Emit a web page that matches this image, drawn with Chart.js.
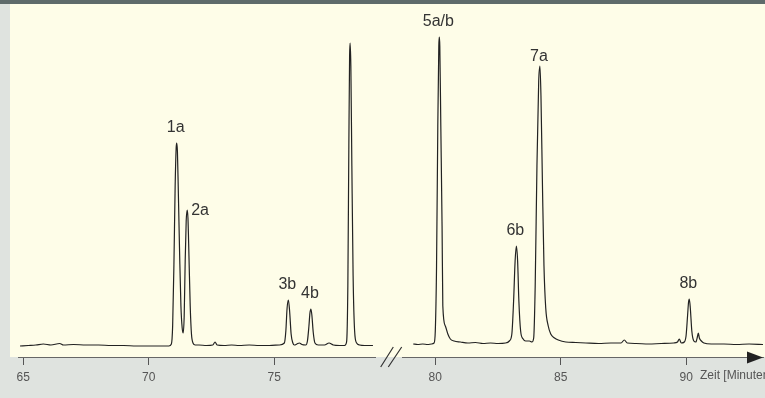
<!DOCTYPE html>
<html>
<head>
<meta charset="utf-8">
<script src="https://cdn.jsdelivr.net/npm/chart.js@4"></script>
<style>
  html, body { margin: 0; padding: 0; background: #dfe3df; }
  canvas { display: block; }
</style>
</head>
<body>
<canvas id="chrom" width="765" height="398"></canvas>
<script>
// Retentionszeiten [min] und Signal (Höhe über Basislinie), vor dem Achsenbruch
const zeitLinks = [64.87, 65.2, 65.5, 65.8, 66.1, 66.45, 66.6, 67.0, 67.5, 68.0, 68.5, 69.0, 69.5, 70.0, 70.5, 70.8,
  70.9, 70.95, 71.0, 71.05, 71.09, 71.11, 71.14, 71.18, 71.23, 71.28, 71.33, 71.37, 71.41, 71.45, 71.49, 71.53,
  71.56, 71.6, 71.65, 71.7, 71.76, 71.85, 72.0, 72.3, 72.55, 72.64, 72.72, 73.0, 73.3, 73.6, 74.0, 74.4, 74.8,
  75.2, 75.4, 75.46, 75.51, 75.56, 75.61, 75.67, 75.74, 75.8, 75.9, 76.0, 76.1, 76.25, 76.32, 76.38, 76.42, 76.46,
  76.5, 76.55, 76.62, 76.75, 77.0, 77.18, 77.35, 77.6, 77.8, 77.88, 77.93, 77.97, 78.0, 78.02, 78.05, 78.09,
  78.14, 78.2, 78.28, 78.4, 78.6, 78.93];
const signalLinks = [0, 0.5, 1, 2, 1, 2.5, 1, 1.5, 1, 1, 0.5, 0.5, 0, 0, 0, 0,
  2, 20, 80, 160, 198, 203, 195, 150, 90, 40, 18, 13, 30, 85, 125, 136,
  128, 90, 40, 12, 3, 1, 1, 0.5, 1, 4, 1, 0.5, 1, 0.5, 1, 0.5, 0.5,
  1, 3, 15, 38, 46, 35, 12, 3, 1, 2, 3, 1.5, 1, 5, 20, 33, 37,
  30, 14, 3, 1, 1, 3, 1, 0.5, 0.5, 4, 60, 200, 290, 303, 280, 180,
  70, 15, 3, 1, 0.5, 0.5];

// nach dem Achsenbruch
const zeitRechts = [79.12, 79.3, 79.5, 79.7, 79.85, 79.95, 80.0, 80.05, 80.1, 80.14, 80.16, 80.18, 80.22, 80.27,
  80.3, 80.4, 80.5, 80.6, 80.75, 81.0, 81.3, 81.6, 81.9, 82.2, 82.5, 82.8, 82.95, 83.05, 83.12, 83.18, 83.23,
  83.28, 83.33, 83.4, 83.5, 83.6, 83.75, 83.85, 83.92, 83.98, 84.05, 84.12, 84.17, 84.21, 84.27, 84.33, 84.4,
  84.5, 84.6, 84.75, 84.9, 85.2, 85.6, 86.0, 86.5, 87.0, 87.4, 87.53, 87.65, 88.0, 88.5, 89.0, 89.5, 89.65,
  89.72, 89.8, 89.92, 89.99, 90.05, 90.09, 90.12, 90.16, 90.22, 90.3, 90.38, 90.45, 90.48, 90.52, 90.6, 90.7,
  91.0, 91.5, 92.0, 92.5, 93.06];
const signalRechts = [2, 1.5, 2, 1.5, 2, 3, 15, 80, 220, 300, 309, 300, 220, 120,
  40, 20, 12, 7, 5, 4, 3, 3.5, 2.5, 3, 2.5, 3, 5, 12, 45, 85, 100,
  85, 45, 15, 7, 5, 5, 4, 8, 60, 180, 265, 280, 250, 160, 80, 38,
  20, 12, 8, 6, 4, 3.5, 3, 2.5, 3, 3, 6, 3, 2.5, 2, 2.5, 3, 4,
  7, 3, 4, 10, 30, 44, 47, 38, 15, 5, 4, 10, 13, 8, 5, 3,
  2, 2, 1.5, 2, 1.5];

// Peakbeschriftungen
const peakNamen = ['1a', '2a', '3b', '4b', '5a/b', '6b', '7a', '8b'];
const peakZeiten = [71.11, 71.53, 75.56, 76.46, 80.16, 83.23, 84.17, 90.12];
const peakHoehen = [203, 136, 46, 37, 309, 100, 280, 47];

// Achsenbeschriftung
const tickZeiten = [65, 70, 75, 80, 85, 90];
const tickTexte = ['65', '70', '75', '80', '85', '90'];

// Achsenbruch: alles nach 79.05 min wird um diesen Betrag nach rechts geschoben
const bruchBei = 79.05;
const bruchVersatz = 1.414;
function aufAchse(t) {
    return t < bruchBei ? t : t + bruchVersatz;
}

function punkte(zeiten, werte) {
    return zeiten.map((t, i) => ({ x: aufAchse(t), y: werte[i] }));
}

const CREME = '#fefde8';
const GRAU = '#dfe3df';

// Hintergrund, Achsenbruch, Pfeil und Beschriftungen
const deko = {
    id: 'deko',
    beforeDraw(chart) {
        const ctx = chart.ctx;
        const a = chart.chartArea;
        ctx.save();
        ctx.fillStyle = GRAU;
        ctx.fillRect(0, 0, chart.width, chart.height);
        ctx.fillStyle = CREME;
        ctx.fillRect(10, 4, chart.width - 10, a.bottom - 4);
        ctx.fillStyle = '#5f6b6b';
        ctx.fillRect(0, 0, chart.width, 4);
        ctx.restore();
    },
    afterDraw(chart) {
        const ctx = chart.ctx;
        const x = chart.scales.x;
        const a = chart.chartArea;
        const yAchse = a.bottom;
        ctx.save();
        // Lücke im Achsenstrich
        ctx.fillStyle = CREME;
        ctx.fillRect(376, yAchse - 2, 26, 2);
        ctx.fillStyle = GRAU;
        ctx.fillRect(376, yAchse, 26, 2);
        // Bruchzeichen //
        ctx.strokeStyle = '#333';
        ctx.lineWidth = 1.2;
        ctx.beginPath();
        ctx.moveTo(380.7, yAchse + 10); ctx.lineTo(393.3, yAchse - 10);
        ctx.moveTo(388.3, yAchse + 10); ctx.lineTo(401.7, yAchse - 10);
        ctx.stroke();
        // Pfeilspitze
        ctx.fillStyle = '#222';
        ctx.beginPath();
        ctx.moveTo(a.right, yAchse + 0.5);
        ctx.lineTo(a.right - 16, yAchse - 5.5);
        ctx.lineTo(a.right - 16, yAchse + 6.5);
        ctx.closePath();
        ctx.fill();
        // Einheit hinter der letzten Zahl
        ctx.font = '12px "Liberation Sans", Arial, sans-serif';
        ctx.fillStyle = '#555';
        ctx.textBaseline = 'middle';
        ctx.textAlign = 'left';
        const p90 = x.getPixelForValue(aufAchse(90));
        const w90 = ctx.measureText('90').width;
        ctx.fillText('Zeit [Minuten]', p90 + w90 / 2 + 7, 376);
        // Peaknamen
        const y = chart.scales.y;
        ctx.font = '16px "Liberation Sans", Arial, sans-serif';
        ctx.fillStyle = '#333';
        peakNamen.forEach((name, i) => {
            const px = x.getPixelForValue(aufAchse(peakZeiten[i]));
            const py = y.getPixelForValue(peakHoehen[i]);
            if (name === '2a') {
                ctx.textAlign = 'left';
                ctx.fillText(name, px + 4, py + 1);
            } else {
                ctx.textAlign = 'center';
                const abstand = name === '7a' ? 9 : 15;
                ctx.fillText(name, px - 1, py - abstand);
            }
        });
        ctx.restore();
    }
};

const linie = {
    borderColor: '#222',
    borderWidth: 1.2,
    pointRadius: 0,
    cubicInterpolationMode: 'monotone',
    fill: false
};

new Chart(document.getElementById('chrom'), {
    type: 'line',
    data: {
        datasets: [
            Object.assign({ label: 'vor Bruch', data: punkte(zeitLinks, signalLinks) }, linie),
            Object.assign({ label: 'nach Bruch', data: punkte(zeitRechts, signalRechts) }, linie)
        ]
    },
    options: {
        responsive: false,
        animation: false,
        layout: { padding: { left: 18, right: 2, top: 4, bottom: 0 } },
        plugins: { legend: { display: false }, tooltip: { enabled: false } },
        scales: {
            x: {
                type: 'linear',
                min: 64.789,
                max: 94.47,
                afterFit(scale) { scale.height = 41; },
                afterBuildTicks(scale) {
                    scale.ticks = tickZeiten.map(t => ({ value: aufAchse(t) }));
                },
                grid: { drawOnChartArea: false, drawTicks: true, tickLength: 8, tickColor: '#555' },
                border: { display: true, color: '#666', width: 1 },
                ticks: {
                    padding: 5,
                    maxRotation: 0,
                    color: '#555',
                    font: { family: '"Liberation Sans", Arial, sans-serif', size: 12 },
                    callback: (v, i) => tickTexte[i]
                }
            },
            y: { display: false, min: -11, max: 342 }
        }
    },
    plugins: [deko]
});
</script>
</body>
</html>
